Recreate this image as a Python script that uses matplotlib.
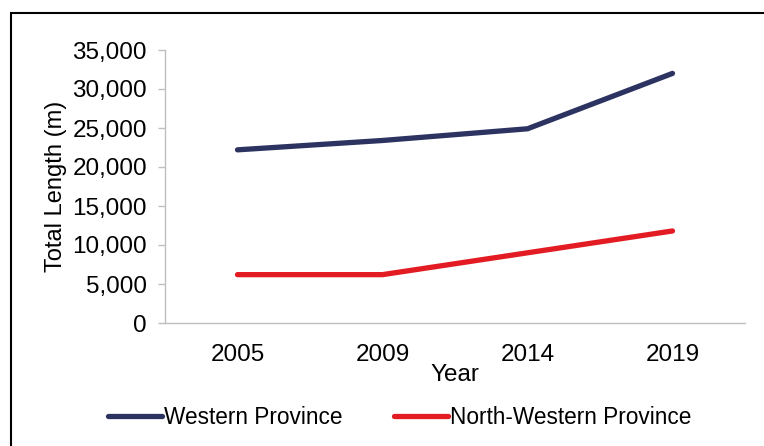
import matplotlib
matplotlib.use("Agg")
import matplotlib.pyplot as plt
from matplotlib.patches import Rectangle
from matplotlib.ticker import FuncFormatter

years = ["2005", "2009", "2014", "2019"]
western = [22200, 23400, 24900, 32000]
north_western = [6200, 6200, 9000, 11800]
series_names = ["Western Province", "North-Western Province"]
yticks = [0, 5000, 10000, 15000, 20000, 25000, 30000, 35000]

plt.rcParams['font.family'] = ['Liberation Sans', 'DejaVu Sans']

fig = plt.figure(figsize=(7.64, 4.46), dpi=100)
ax = fig.add_axes([165/764, 1-323/446, (745-165)/764, (323-50)/446])

x = list(range(len(years)))
l1, = ax.plot(x, western, color='#2C3361', lw=3.8, solid_capstyle='round', solid_joinstyle='round')
l2, = ax.plot(x, north_western, color='#E31C23', lw=3.8, solid_capstyle='round', solid_joinstyle='round')

ax.set_xlim(-0.5, 3.5)
ax.set_ylim(0, 35000)
ax.set_xticks(x)
ax.set_xticklabels(years)
ax.set_yticks(yticks)
ax.yaxis.set_major_formatter(FuncFormatter(lambda v, p: f"{int(v):,}"))

for s in ['top', 'right']:
    ax.spines[s].set_visible(False)
for s in ['left', 'bottom']:
    ax.spines[s].set_color('#BFBFBF')
    ax.spines[s].set_linewidth(1.0)

ax.tick_params(axis='y', length=5, color='#BFBFBF', width=1.0, labelsize=17.5, pad=8)
ax.tick_params(axis='x', length=0, labelsize=17.5, pad=15)

ax.set_xlabel("Year", fontsize=17.5, labelpad=-1)
ax.set_ylabel("Total Length (m)", fontsize=17, labelpad=4)

fig.legend([l1, l2], series_names, loc='center', bbox_to_anchor=(0.523, 1-417/446),
           ncol=2, frameon=False, fontsize=16.3, handlelength=2.4, handletextpad=0.1,
           columnspacing=2.25)

fig.patches.append(Rectangle((11/764, -0.1), 1.2, 1-12.5/446+0.1, transform=fig.transFigure,
                             fill=False, edgecolor='black', linewidth=1.5))

fig.savefig("out.png", dpi=100)
